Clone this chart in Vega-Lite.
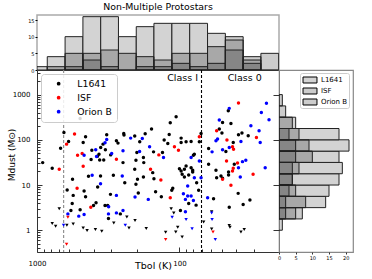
{
"$schema":"https://vega.github.io/schema/vega-lite/v6.json",
"background":"white",
"padding":{"left":6,"top":0,"right":0,"bottom":0},
"config":{"font":"DejaVu Sans","axis":{"grid":false,"domain":false,"labelFont":"DejaVu Sans","titleFont":"DejaVu Sans","titleFontWeight":"normal","labelColor":"#000","titleColor":"#000","tickColor":"#333"},"legend":{"labelFont":"DejaVu Sans"},"title":{"font":"DejaVu Sans","fontWeight":"normal","color":"#000"}},
"datasets":{
"pts":[
{"g":"L1641","T":912,"M":31.3,"k":"d"},{"g":"L1641","T":782,"M":23.5,"k":"d"},{"g":"L1641","T":683,"M":65.4,"k":"d"},{"g":"L1641","T":647,"M":145,"k":"d"},{"g":"L1641","T":600,"M":91.7,"k":"d"},{"g":"L1641","T":563,"M":13.4,"k":"d"},{"g":"L1641","T":474,"M":87.1,"k":"d"},{"g":"L1641","T":456,"M":117,"k":"d"},{"g":"L1641","T":498,"M":297,"k":"d"},{"g":"L1641","T":435,"M":15.6,"k":"d"},{"g":"L1641","T":417,"M":36.5,"k":"d"},{"g":"L1641","T":412,"M":59,"k":"d"},{"g":"L1641","T":376,"M":43.4,"k":"d"},{"g":"L1641","T":367,"M":48.1,"k":"d"},{"g":"L1641","T":363,"M":35.9,"k":"d"},{"g":"L1641","T":357,"M":67.4,"k":"d"},{"g":"L1641","T":340,"M":35.9,"k":"d"},{"g":"L1641","T":344,"M":80.2,"k":"d"},{"g":"L1641","T":324,"M":129,"k":"d"},{"g":"L1641","T":331,"M":60,"k":"d"},{"g":"L1641","T":304,"M":46.4,"k":"d"},{"g":"L1641","T":291,"M":16.4,"k":"d"},{"g":"L1641","T":277,"M":95,"k":"d"},{"g":"L1641","T":270,"M":84.5,"k":"d"},{"g":"L1641","T":249,"M":31.3,"k":"d"},{"g":"L1641","T":246,"M":138,"k":"d"},{"g":"L1641","T":245,"M":127,"k":"d"},{"g":"L1641","T":206,"M":121,"k":"d"},{"g":"L1641","T":202,"M":35.4,"k":"d"},{"g":"L1641","T":206,"M":22.3,"k":"d"},{"g":"L1641","T":199,"M":52.2,"k":"d"},{"g":"L1641","T":190,"M":90.3,"k":"d"},{"g":"L1641","T":174,"M":136,"k":"d"},{"g":"L1641","T":179,"M":40.4,"k":"d"},{"g":"L1641","T":178,"M":31.3,"k":"d"},{"g":"L1641","T":157,"M":173,"k":"d"},{"g":"L1641","T":151,"M":13.8,"k":"d"},{"g":"L1641","T":152,"M":54.1,"k":"d"},{"g":"L1641","T":131.5,"M":52.2,"k":"d"},{"g":"L1641","T":128,"M":98.5,"k":"d"},{"g":"L1641","T":120.7,"M":82.8,"k":"d"},{"g":"L1641","T":118,"M":131,"k":"d"},{"g":"L1641","T":116,"M":239,"k":"d"},{"g":"L1641","T":105.5,"M":324,"k":"d"},{"g":"L1641","T":97.3,"M":109,"k":"d"},{"g":"L1641","T":97.3,"M":87.1,"k":"d"},{"g":"L1641","T":100,"M":23,"k":"d"},{"g":"L1641","T":97.3,"M":20.5,"k":"d"},{"g":"L1641","T":95.7,"M":17.3,"k":"d"},{"g":"L1641","T":92.3,"M":15.1,"k":"d"},{"g":"L1641","T":358,"M":15.8,"k":"d"},{"g":"L1641","T":242,"M":11.2,"k":"d"},{"g":"L1641","T":614,"M":7.74,"k":"d"},{"g":"L1641","T":557,"M":5.9,"k":"d"},{"g":"L1641","T":467,"M":7.36,"k":"d"},{"g":"L1641","T":456,"M":5.5,"k":"d"},{"g":"L1641","T":566,"M":3.92,"k":"d"},{"g":"L1641","T":578,"M":2.74,"k":"d"},{"g":"L1641","T":498,"M":2.83,"k":"d"},{"g":"L1641","T":401,"M":3.54,"k":"d"},{"g":"L1641","T":385,"M":4.04,"k":"d"},{"g":"L1641","T":375,"M":9.03,"k":"d"},{"g":"L1641","T":333,"M":3.54,"k":"d"},{"g":"L1641","T":319,"M":3.54,"k":"d"},{"g":"L1641","T":305,"M":6.21,"k":"d"},{"g":"L1641","T":315,"M":1.82,"k":"d"},{"g":"L1641","T":260,"M":2.3,"k":"d"},{"g":"L1641","T":202,"M":10.4,"k":"d"},{"g":"L1641","T":197,"M":13.4,"k":"d"},{"g":"L1641","T":194.5,"M":6.64,"k":"d"},{"g":"L1641","T":179,"M":15.1,"k":"d"},{"g":"L1641","T":154,"M":18.8,"k":"d"},{"g":"L1641","T":147,"M":7.1,"k":"d"},{"g":"L1641","T":134,"M":5.5,"k":"d"},{"g":"L1641","T":113.2,"M":7.62,"k":"d"},{"g":"L1641","T":111.4,"M":8.45,"k":"d"},{"g":"L1641","T":98.4,"M":2.74,"k":"d"},{"g":"L1641","T":45.4,"M":441,"k":"d"},{"g":"L1641","T":49.8,"M":242,"k":"d"},{"g":"L1641","T":43.5,"M":230,"k":"d"},{"g":"L1641","T":52.5,"M":173,"k":"d"},{"g":"L1641","T":50.3,"M":141,"k":"d"},{"g":"L1641","T":36.4,"M":141,"k":"d"},{"g":"L1641","T":38.5,"M":129,"k":"d"},{"g":"L1641","T":32.9,"M":123,"k":"d"},{"g":"L1641","T":41.9,"M":87.1,"k":"d"},{"g":"L1641","T":62.4,"M":64.1,"k":"d"},{"g":"L1641","T":47.2,"M":55,"k":"d"},{"g":"L1641","T":41.2,"M":28.8,"k":"d"},{"g":"L1641","T":62.4,"M":28.8,"k":"d"},{"g":"L1641","T":45.2,"M":19.5,"k":"d"},{"g":"L1641","T":55.4,"M":21.2,"k":"d"},{"g":"L1641","T":51.1,"M":15.8,"k":"d"},{"g":"L1641","T":49.8,"M":14.1,"k":"d"},{"g":"L1641","T":70.5,"M":138,"k":"d"},{"g":"L1641","T":72.5,"M":90.3,"k":"d"},{"g":"L1641","T":79.8,"M":45.7,"k":"d"},{"g":"L1641","T":78.6,"M":48.1,"k":"d"},{"g":"L1641","T":89.8,"M":90.3,"k":"d"},{"g":"L1641","T":82.8,"M":91.7,"k":"d"},{"g":"L1641","T":89.8,"M":26.4,"k":"d"},{"g":"L1641","T":92.3,"M":22.3,"k":"d"},{"g":"L1641","T":82.8,"M":24.2,"k":"d"},{"g":"L1641","T":80.7,"M":21.2,"k":"d"},{"g":"L1641","T":86.1,"M":16.7,"k":"d"},{"g":"L1641","T":80.7,"M":19.5,"k":"d"},{"g":"L1641","T":75.7,"M":11.2,"k":"d"},{"g":"L1641","T":73.3,"M":7.62,"k":"d"},{"g":"L1641","T":86.1,"M":3.92,"k":"d"},{"g":"L1641","T":76.4,"M":3.59,"k":"d"},{"g":"L1641","T":54.8,"M":14.5,"k":"d"},{"g":"L1641","T":45.2,"M":16.7,"k":"d"},{"g":"L1641","T":57.6,"M":4.96,"k":"d"},{"g":"L1641","T":38.7,"M":6.54,"k":"d"},{"g":"L1641","T":32,"M":4.64,"k":"d"},{"g":"L1641","T":35.7,"M":3.72,"k":"d"},{"g":"L1641","T":44.7,"M":3.24,"k":"d"},
{"g":"ISF","T":698,"M":22.3,"k":"d"},{"g":"ISF","T":620,"M":80.2,"k":"d"},{"g":"ISF","T":545,"M":134,"k":"d"},{"g":"ISF","T":519,"M":45.7,"k":"d"},{"g":"ISF","T":482,"M":49.6,"k":"d"},{"g":"ISF","T":474,"M":26,"k":"d"},{"g":"ISF","T":277,"M":37.2,"k":"d"},{"g":"ISF","T":159.5,"M":22.3,"k":"d"},{"g":"ISF","T":139.5,"M":46.4,"k":"d"},{"g":"ISF","T":135,"M":12.9,"k":"d"},{"g":"ISF","T":108.4,"M":69.9,"k":"d"},{"g":"ISF","T":101.6,"M":59,"k":"d"},{"g":"ISF","T":523,"M":8.45,"k":"d"},{"g":"ISF","T":419,"M":3.24,"k":"d"},{"g":"ISF","T":116,"M":5.22,"k":"d"},{"g":"ISF","T":38.5,"M":654,"k":"d"},{"g":"ISF","T":54.8,"M":158,"k":"d"},{"g":"ISF","T":28.8,"M":112.5,"k":"d"},{"g":"ISF","T":46.4,"M":98.5,"k":"d"},{"g":"ISF","T":42.4,"M":69.9,"k":"d"},{"g":"ISF","T":41.7,"M":62.1,"k":"d"},{"g":"ISF","T":46.7,"M":34.1,"k":"d"},{"g":"ISF","T":39.1,"M":30.8,"k":"d"},{"g":"ISF","T":41.9,"M":23.5,"k":"d"},{"g":"ISF","T":42.4,"M":20.5,"k":"d"},{"g":"ISF","T":30.4,"M":17.3,"k":"d"},{"g":"ISF","T":72.5,"M":117,"k":"d"},{"g":"ISF","T":49.8,"M":13.4,"k":"d"},{"g":"ISF","T":43.5,"M":9.85,"k":"d"},
{"g":"Orion B","T":467,"M":45.7,"k":"d"},{"g":"Orion B","T":410,"M":16.4,"k":"d"},{"g":"Orion B","T":387,"M":60,"k":"d"},{"g":"Orion B","T":382,"M":42.6,"k":"d"},{"g":"Orion B","T":333,"M":85.8,"k":"d"},{"g":"Orion B","T":324,"M":101.6,"k":"d"},{"g":"Orion B","T":299,"M":49.6,"k":"d"},{"g":"Orion B","T":252,"M":15.8,"k":"d"},{"g":"Orion B","T":249,"M":57,"k":"d"},{"g":"Orion B","T":220,"M":109,"k":"d"},{"g":"Orion B","T":190.4,"M":55,"k":"d"},{"g":"Orion B","T":182.3,"M":107,"k":"d"},{"g":"Orion B","T":162,"M":69.9,"k":"d"},{"g":"Orion B","T":129.4,"M":40.4,"k":"d"},{"g":"Orion B","T":358,"M":10.7,"k":"d"},{"g":"Orion B","T":607,"M":2.3,"k":"d"},{"g":"Orion B","T":509,"M":2.05,"k":"d"},{"g":"Orion B","T":467,"M":2.23,"k":"d"},{"g":"Orion B","T":315,"M":2.3,"k":"d"},{"g":"Orion B","T":314,"M":3.3,"k":"d"},{"g":"Orion B","T":277,"M":5.9,"k":"d"},{"g":"Orion B","T":277,"M":2.42,"k":"d"},{"g":"Orion B","T":249,"M":2.74,"k":"d"},{"g":"Orion B","T":205,"M":5.41,"k":"d"},{"g":"Orion B","T":165.5,"M":4.81,"k":"d"},{"g":"Orion B","T":93.8,"M":6.41,"k":"d"},{"g":"Orion B","T":90.8,"M":4.81,"k":"d"},{"g":"Orion B","T":87.5,"M":9.5,"k":"d"},{"g":"Orion B","T":44.7,"M":496,"k":"d"},{"g":"Orion B","T":24.5,"M":641,"k":"d"},{"g":"Orion B","T":26.6,"M":404,"k":"d"},{"g":"Orion B","T":23.5,"M":278,"k":"d"},{"g":"Orion B","T":52.5,"M":274,"k":"d"},{"g":"Orion B","T":31.5,"M":205,"k":"d"},{"g":"Orion B","T":27.6,"M":158,"k":"d"},{"g":"Orion B","T":54,"M":104,"k":"d"},{"g":"Orion B","T":55.4,"M":95,"k":"d"},{"g":"Orion B","T":37,"M":91.7,"k":"d"},{"g":"Orion B","T":27.1,"M":87.1,"k":"d"},{"g":"Orion B","T":44.7,"M":67.4,"k":"d"},{"g":"Orion B","T":49.8,"M":60,"k":"d"},{"g":"Orion B","T":59,"M":54.1,"k":"d"},{"g":"Orion B","T":36.1,"M":32.9,"k":"d"},{"g":"Orion B","T":34.2,"M":35.4,"k":"d"},{"g":"Orion B","T":25,"M":24.2,"k":"d"},{"g":"Orion B","T":38.5,"M":24.2,"k":"d"},{"g":"Orion B","T":37.4,"M":15.1,"k":"d"},{"g":"Orion B","T":72.5,"M":34.1,"k":"d"},{"g":"Orion B","T":82.8,"M":40.4,"k":"d"},{"g":"Orion B","T":78.6,"M":14.5,"k":"d"},{"g":"Orion B","T":70.5,"M":14.5,"k":"d"},{"g":"Orion B","T":87.5,"M":5.7,"k":"d"},{"g":"Orion B","T":82.8,"M":5.7,"k":"d"},{"g":"Orion B","T":79.8,"M":4.57,"k":"d"},{"g":"Orion B","T":90.8,"M":2.55,"k":"d"},{"g":"Orion B","T":63.4,"M":5.22,"k":"d"},
{"g":"L1641","T":698,"M":2.97,"k":"l"},{"g":"L1641","T":782,"M":1.41,"k":"l"},{"g":"L1641","T":740,"M":1.23,"k":"l"},{"g":"L1641","T":617,"M":1.29,"k":"l"},{"g":"L1641","T":557,"M":1.38,"k":"l"},{"g":"L1641","T":474,"M":1.12,"k":"l"},{"g":"L1641","T":445,"M":0.985,"k":"l"},{"g":"L1641","T":389,"M":1.04,"k":"l"},{"g":"L1641","T":351,"M":0.95,"k":"l"},{"g":"L1641","T":289,"M":1.45,"k":"l"},{"g":"L1641","T":226,"M":1.12,"k":"l"},{"g":"L1641","T":234,"M":1.97,"k":"l"},{"g":"L1641","T":205,"M":1.64,"k":"l"},{"g":"L1641","T":171,"M":1.09,"k":"l"},{"g":"L1641","T":125,"M":0.9,"k":"l"},{"g":"L1641","T":114.3,"M":2.97,"k":"l"},{"g":"L1641","T":109.6,"M":2.42,"k":"l"},{"g":"L1641","T":106.1,"M":0.917,"k":"l"},{"g":"L1641","T":102.8,"M":1.17,"k":"l"},{"g":"L1641","T":95.7,"M":0.71,"k":"l"},{"g":"L1641","T":59.4,"M":1.07,"k":"l"},{"g":"L1641","T":44.2,"M":1.17,"k":"l"},{"g":"L1641","T":37,"M":0.917,"k":"l"},{"g":"L1641","T":35.1,"M":1.04,"k":"l"},{"g":"L1641","T":67.6,"M":1.53,"k":"l"},{"g":"L1641","T":44.7,"M":1.27,"k":"l"},{"g":"L1641","T":59.4,"M":2.55,"k":"l"},
{"g":"ISF","T":607,"M":1.94,"k":"l"},{"g":"ISF","T":620,"M":0.489,"k":"l"},{"g":"ISF","T":125,"M":0.622,"k":"l"},{"g":"ISF","T":58.1,"M":0.917,"k":"l"},
{"g":"Orion B","T":651,"M":1.29,"k":"l"},{"g":"Orion B","T":240,"M":1.29,"k":"l"},{"g":"Orion B","T":112.5,"M":1.94,"k":"l"},{"g":"Orion B","T":89.8,"M":1.73,"k":"l"},{"g":"Orion B","T":81.5,"M":1.08,"k":"l"},{"g":"Orion B","T":59,"M":1.73,"k":"l"},{"g":"Orion B","T":56,"M":0.622,"k":"l"},{"g":"Orion B","T":59.4,"M":2.42,"k":"l"}
],
"th":[
{"t0":1000,"t1":847,"g":"L1641","n":1},{"t0":847,"t1":635,"g":"L1641","n":4},{"t0":635,"t1":476,"g":"L1641","n":10},{"t0":476,"t1":357,"g":"L1641","n":16},{"t0":357,"t1":268,"g":"L1641","n":16},{"t0":268,"t1":201,"g":"L1641","n":10},{"t0":201,"t1":151,"g":"L1641","n":13},{"t0":151,"t1":113,"g":"L1641","n":14},{"t0":113,"t1":84.7,"g":"L1641","n":14},{"t0":84.7,"t1":63.5,"g":"L1641","n":14},{"t0":63.5,"t1":47.6,"g":"L1641","n":11},{"t0":47.6,"t1":35.7,"g":"L1641","n":9},{"t0":35.7,"t1":26.8,"g":"L1641","n":3},{"t0":26.8,"t1":20.1,"g":"L1641","n":0},
{"t0":1000,"t1":847,"g":"ISF","n":0},{"t0":847,"t1":635,"g":"ISF","n":1},{"t0":635,"t1":476,"g":"ISF","n":5},{"t0":476,"t1":357,"g":"ISF","n":5},{"t0":357,"t1":268,"g":"ISF","n":1},{"t0":268,"t1":201,"g":"ISF","n":0},{"t0":201,"t1":151,"g":"ISF","n":1},{"t0":151,"t1":113,"g":"ISF","n":3},{"t0":113,"t1":84.7,"g":"ISF","n":2},{"t0":84.7,"t1":63.5,"g":"ISF","n":1},{"t0":63.5,"t1":47.6,"g":"ISF","n":2},{"t0":47.6,"t1":35.7,"g":"ISF","n":10},{"t0":35.7,"t1":26.8,"g":"ISF","n":4},{"t0":26.8,"t1":20.1,"g":"ISF","n":0},
{"t0":1000,"t1":847,"g":"Orion B","n":0},{"t0":847,"t1":635,"g":"Orion B","n":0},{"t0":635,"t1":476,"g":"Orion B","n":1},{"t0":476,"t1":357,"g":"Orion B","n":3},{"t0":357,"t1":268,"g":"Orion B","n":6},{"t0":268,"t1":201,"g":"Orion B","n":5},{"t0":201,"t1":151,"g":"Orion B","n":4},{"t0":151,"t1":113,"g":"Orion B","n":1},{"t0":113,"t1":84.7,"g":"Orion B","n":5},{"t0":84.7,"t1":63.5,"g":"Orion B","n":5},{"t0":63.5,"t1":47.6,"g":"Orion B","n":7},{"t0":47.6,"t1":35.7,"g":"Orion B","n":6},{"t0":35.7,"t1":26.8,"g":"Orion B","n":2},{"t0":26.8,"t1":20.1,"g":"Orion B","n":5}
],
"rh":[
{"m0":1,"m1":1.778,"g":"L1641","n":1},{"m0":1.778,"m1":3.162,"g":"L1641","n":5},{"m0":3.162,"m1":5.623,"g":"L1641","n":14},{"m0":5.623,"m1":10,"g":"L1641","n":15},{"m0":10,"m1":17.78,"g":"L1641","n":18},{"m0":17.78,"m1":31.62,"g":"L1641","n":19},{"m0":31.62,"m1":56.23,"g":"L1641","n":18},{"m0":56.23,"m1":100,"g":"L1641","n":21},{"m0":100,"m1":177.8,"g":"L1641","n":18},{"m0":177.8,"m1":316.2,"g":"L1641","n":5},{"m0":316.2,"m1":562.3,"g":"L1641","n":0},{"m0":562.3,"m1":1000,"g":"L1641","n":0},
{"m0":1,"m1":1.778,"g":"ISF","n":0},{"m0":1.778,"m1":3.162,"g":"ISF","n":2},{"m0":3.162,"m1":5.623,"g":"ISF","n":2},{"m0":5.623,"m1":10,"g":"ISF","n":5},{"m0":10,"m1":17.78,"g":"ISF","n":4},{"m0":17.78,"m1":31.62,"g":"ISF","n":6},{"m0":31.62,"m1":56.23,"g":"ISF","n":5},{"m0":56.23,"m1":100,"g":"ISF","n":5},{"m0":100,"m1":177.8,"g":"ISF","n":6},{"m0":177.8,"m1":316.2,"g":"ISF","n":0},{"m0":316.2,"m1":562.3,"g":"ISF","n":0},{"m0":562.3,"m1":1000,"g":"ISF","n":1},
{"m0":1,"m1":1.778,"g":"Orion B","n":0},{"m0":1.778,"m1":3.162,"g":"Orion B","n":7},{"m0":3.162,"m1":5.623,"g":"Orion B","n":8},{"m0":5.623,"m1":10,"g":"Orion B","n":3},{"m0":10,"m1":17.78,"g":"Orion B","n":4},{"m0":17.78,"m1":31.62,"g":"Orion B","n":4},{"m0":31.62,"m1":56.23,"g":"Orion B","n":10},{"m0":56.23,"m1":100,"g":"Orion B","n":9},{"m0":100,"m1":177.8,"g":"Orion B","n":3},{"m0":177.8,"m1":316.2,"g":"Orion B","n":4},{"m0":316.2,"m1":562.3,"g":"Orion B","n":2},{"m0":562.3,"m1":1000,"g":"Orion B","n":0}
]
},
"spacing":0,
"bounds":"flush",
"resolve":{"scale":{"fill":"independent","color":"independent","shape":"independent"},"legend":{"fill":"independent","color":"independent","shape":"independent"}},
"vconcat":[
{
"width":242,"height":55,
"title":{"text":"Non-Multiple Protostars","fontSize":9.4,"offset":3},
"view":{"stroke":"#aaaaaa","strokeWidth":1.5},
"data":{"name":"th"},
"transform":[{"filter":"datum.n > 0"}],
"mark":{"type":"rect","clip":true,"strokeWidth":1,"stroke":"#222"},
"encoding":{
"x":{"field":"t0","type":"quantitative","scale":{"type":"log","domain":[20,1000],"reverse":true,"nice":false},"axis":null},
"x2":{"field":"t1"},
"y":{"field":"n","type":"quantitative","scale":{"domain":[0,16.5],"nice":false},"axis":{"values":[0,5,10,15],"labelFontSize":5,"tickSize":2,"labelPadding":1,"title":null,"tickColor":"#000","labelFlush":false}},
"y2":{"datum":0},
"fill":{"field":"g","type":"nominal","scale":{"domain":["L1641","ISF","Orion B"],"range":["#d3d3d3","rgba(0,0,0,0.2)","rgba(0,0,0,0.2)"]},"legend":null}
}
},
{
"spacing":0,
"bounds":"flush",
"resolve":{"scale":{"fill":"independent","color":"independent","shape":"independent"},"legend":{"fill":"independent","color":"independent","shape":"independent"}},
"hconcat":[
{
"width":242,"height":182,
"view":{"stroke":"#333333","strokeWidth":1},
"layer":[
{"data":{"values":[{}]},"mark":{"type":"rule","strokeDash":[3,2],"color":"#888888","strokeWidth":1.1},"encoding":{"x":{"datum":650,"type":"quantitative"}}},
{"data":{"values":[{}]},"mark":{"type":"rule","strokeDash":[3,2],"color":"#000000","strokeWidth":1.1},"encoding":{"x":{"datum":70,"type":"quantitative"}}},
{"data":{"values":[{}]},"mark":{"type":"text","fontSize":9.5,"color":"#000","text":"Class I"},"encoding":{"x":{"datum":95,"type":"quantitative"},"y":{"datum":2340,"type":"quantitative"}}},
{"data":{"values":[{}]},"mark":{"type":"text","fontSize":9.5,"color":"#000","text":"Class 0"},"encoding":{"x":{"datum":34.8,"type":"quantitative"},"y":{"datum":2340,"type":"quantitative"}}},
{"data":{"name":"pts"},
"mark":{"type":"point","filled":true,"opacity":1,"size":12,"clip":true},
"encoding":{
"x":{"field":"T","type":"quantitative","scale":{"type":"log","domain":[20,1000],"reverse":true,"nice":false},
 "axis":{"title":"Tbol (K)","titleFontSize":9.5,"values":[1000,900,800,700,600,500,400,300,200,100,90,80,70,60,50,40,30,20],"format":"d","labelExpr":"(datum.value == 1000 || datum.value == 100) ? datum.label : ''","labelFontSize":7,"tickSize":{"condition":{"test":"datum.value == 1000 || datum.value == 100","value":-5},"value":-3},"labelPadding":12,"labelFlush":false,"labelOverlap":false,"titleX":116,"titleY":16,"titleBaseline":"alphabetic"}},
"y":{"field":"M","type":"quantitative","scale":{"type":"log","domain":[0.33,3500],"nice":false},
 "axis":{"title":"Mdust (M⊙)","titleFontSize":9,"values":[0.4,0.5,0.6,0.7,0.8,0.9,1,2,3,4,5,6,7,8,9,10,20,30,40,50,60,70,80,90,100,200,300,400,500,600,700,800,900,1000,2000,3000],"format":"d","labelExpr":"(datum.value == 1 || datum.value == 10 || datum.value == 100 || datum.value == 1000) ? datum.label : ''","labelFontSize":7,"tickSize":{"condition":{"test":"datum.value == 1 || datum.value == 10 || datum.value == 100 || datum.value == 1000","value":-5},"value":-3},"labelPadding":12,"labelFlush":false,"labelOverlap":false,"titleX":-23,"titleY":84.5,"titleAngle":-90,"titleBaseline":"alphabetic","titleAlign":"center"}},
"color":{"field":"g","type":"nominal","scale":{"domain":["L1641","ISF","Orion B"],"range":["#000000","#ff0000","#0000ff"]},
 "legend":{"title":null,"orient":"top-left","offset":4,"padding":5,"rowPadding":4,"labelFontSize":9.3,"symbolSize":14,"symbolType":"circle","symbolOffset":8,"labelOffset":14,"strokeColor":"#cccccc","fillColor":"rgba(255,255,255,0.85)","cornerRadius":3}},
"shape":{"field":"k","type":"nominal","scale":{"domain":["d","l"],"range":["circle","triangle-down"]},"legend":null}
}}
]
},
{
"width":74,"height":182,
"view":{"stroke":"#888888","strokeWidth":1.2},
"data":{"name":"rh"},
"transform":[{"filter":"datum.n > 0"}],
"mark":{"type":"rect","strokeWidth":1,"stroke":"#222","clip":true},
"encoding":{
"y":{"field":"m0","type":"quantitative","scale":{"type":"log","domain":[0.33,3500],"nice":false},"axis":{"values":[1,10,100,1000],"labels":false,"tickSize":6,"title":null,"tickColor":"#333"}},
"y2":{"field":"m1"},
"x":{"field":"n","type":"quantitative","scale":{"domain":[0,22.2],"nice":false},"axis":{"values":[0,5,10,15,20],"labelFontSize":5,"tickSize":2,"labelPadding":1,"title":null,"labelFlush":false}},
"x2":{"datum":0},
"fill":{"field":"g","type":"nominal","scale":{"domain":["L1641","ISF","Orion B"],"range":["#d3d3d3","rgba(0,0,0,0.2)","rgba(0,0,0,0.2)"]},
 "legend":{"title":null,"orient":"none","legendX":21,"legendY":3,"padding":1,"rowPadding":0,"labelFontSize":7,"symbolType":"M-1.33,-0.57H1.33V0.57H-1.33Z","symbolSize":110,"symbolOffset":3,"symbolStrokeColor":"#000","symbolStrokeWidth":1,"labelOffset":5,"strokeColor":"#cccccc","fillColor":"#ffffff","cornerRadius":2}}
}
}
]
}
]
}
